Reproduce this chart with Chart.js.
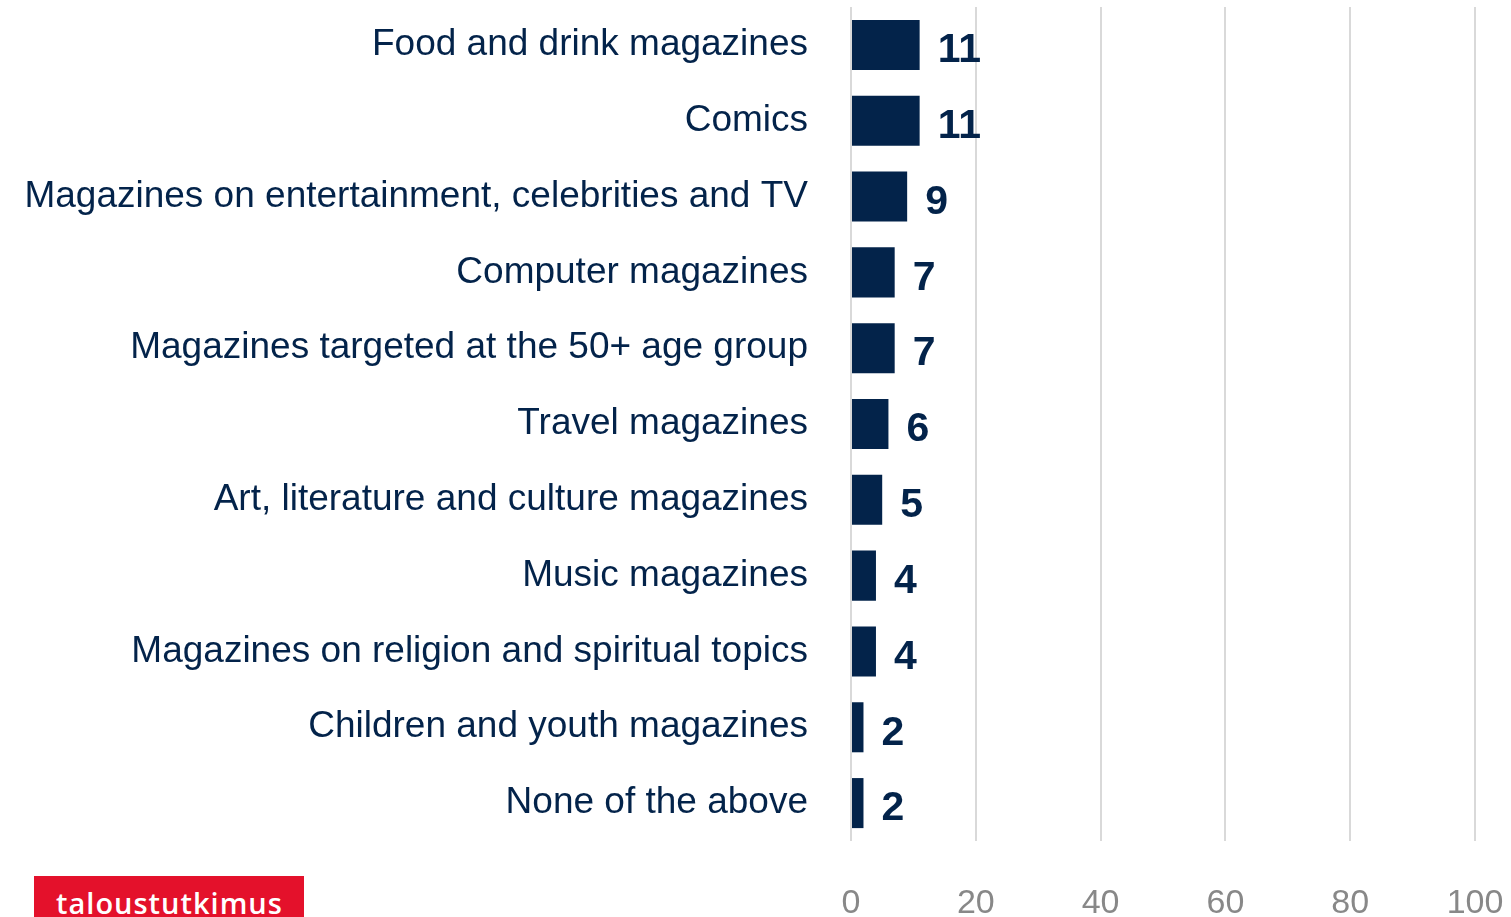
<!DOCTYPE html>
<html>
<head>
<meta charset="utf-8">
<title>Magazines read</title>
<script src="https://cdn.jsdelivr.net/npm/chart.js@4/dist/chart.umd.min.js"></script>
<style>
  body { margin: 0; background: #fff; }
  #wrap { position: relative; width: 1511px; height: 917px; overflow: hidden; }
  #logo {
    position: absolute; left: 34px; top: 876px; width: 270px; height: 60px;
    background: #e4112b; color: #fff;
    font-family: "Open Sans", "DejaVu Sans", sans-serif; font-weight: 600;
    font-size: 29px; line-height: 1; box-sizing: border-box; padding: 12px 0 0 22px;
    letter-spacing: 1px;
  }
</style>
</head>
<body>
<div id="wrap">
  <canvas id="newChart" width="1511" height="917"></canvas>
  <div id="logo">taloustutkimus</div>
</div>
<script>
// Categories, top to bottom
const categories = [
  'Food and drink magazines',
  'Comics',
  'Magazines on entertainment, celebrities and TV',
  'Computer magazines',
  'Magazines targeted at the 50+ age group',
  'Travel magazines',
  'Art, literature and culture magazines',
  'Music magazines',
  'Magazines on religion and spiritual topics',
  'Children and youth magazines',
  'None of the above'
];

// Share of respondents, %
const values = [11, 11, 9, 7, 7, 6, 5, 4, 4, 2, 2];

// x axis ticks
const xTicks = [0, 20, 40, 60, 80, 100];

const navy = '#03234a';

// Draw the value next to the end of each bar
const valueLabels = {
  id: 'valueLabels',
  afterDatasetsDraw(chart) {
    const ctx = chart.ctx;
    const meta = chart.getDatasetMeta(0);
    ctx.save();
    ctx.fillStyle = navy;
    ctx.font = 'bold 41px "Liberation Sans", Arial, sans-serif';
    ctx.textAlign = 'left';
    ctx.textBaseline = 'middle';
    meta.data.forEach(function(bar, i) {
      ctx.fillText(String(values[i]), bar.x + 18, bar.y + 6);
    });
    ctx.restore();
  }
};

// keep the tick padding from eating into the plot area
function noMargins(scale) {
  scale.paddingTop = 0;
  scale.paddingBottom = 0;
  scale.paddingLeft = 0;
  scale.paddingRight = 0;
}

const ctx = document.getElementById('newChart').getContext('2d');
const myChart = new Chart(ctx, {
  type: 'bar',
  data: {
    labels: categories,
    datasets: [{
      data: values,
      backgroundColor: navy,
      barPercentage: 0.66,
      categoryPercentage: 1
    }]
  },
  options: {
    indexAxis: 'y',
    responsive: false,
    animation: false,
    layout: { padding: { top: 7, right: 36, left: 0, bottom: 0 } },
    plugins: {
      legend: { display: false },
      tooltip: { enabled: false }
    },
    scales: {
      x: {
        min: 0,
        max: 100,
        afterBuildTicks: function(scale) {
          scale.ticks = xTicks.map((v) => ({ value: v }));
        },
        afterFit: function(scale) {
          scale.height = 76;
          noMargins(scale);
        },
        grid: { color: '#d9d9d9', lineWidth: 2, drawTicks: false },
        border: { display: false },
        ticks: {
          color: '#888888',
          padding: 42,
          font: { family: '"Liberation Sans", Arial, sans-serif', size: 34 }
        }
      },
      y: {
        afterFit: function(scale) {
          scale.width = 851;
          noMargins(scale);
        },
        grid: { display: false },
        border: { display: false },
        ticks: {
          color: navy,
          padding: 35,
          font: { family: '"Liberation Sans", Arial, sans-serif', size: 37 }
        }
      }
    }
  },
  plugins: [valueLabels]
});
</script>
</body>
</html>
